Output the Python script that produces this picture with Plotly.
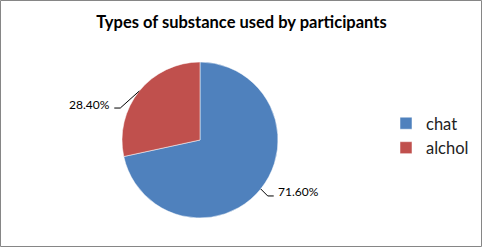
import numpy as np
import plotly.graph_objects as go

categories = ["chat", "alchol"]
values = [71.60, 28.40]
colors = ["#4F81BD", "#C0504D"]
title_text = "Types of substance used by participants"

W, H = 483, 247
cx, cy, r = 200, 140, 78  # pie centre / radius in pixels

fig = go.Figure(go.Pie(
    labels=categories, values=values, sort=False, direction="clockwise", rotation=0,
    marker=dict(colors=colors, line=dict(color="white", width=0.5)),
    textinfo="none", hoverinfo="label+percent",
    domain=dict(x=[(cx - r) / W, (cx + r) / W], y=[1 - (cy + r) / H, 1 - (cy - r) / H]),
))

# leader lines + labels computed from the values
shapes = [dict(type="rect", xref="paper", yref="paper", x0=0.5 / W, y0=0.5 / H, x1=1 - 1.5 / W, y1=1 - 0.5 / H,
               line=dict(color="#868686", width=1))]
annotations = []
total = sum(values)
start = 0.0
for v in values:
    mid = (start + v / 2) / total * 2 * np.pi
    start += v
    sx, sy = np.sin(mid), -np.cos(mid)
    px, py = cx + r * sx, cy + r * sy
    side = 1 if sx >= 0 else -1
    if sy > 0:
        ex, ey = px + 7 * side, py + 7
    else:
        ex, ey = px + 19 * side, py + 17
    hx = ex + 6 * side
    shapes.append(dict(type="path", xref="paper", yref="paper",
                       path=f"M {px / W},{1 - py / H} L {ex / W},{1 - ey / H} L {hx / W},{1 - ey / H}",
                       line=dict(color="black", width=1)))
    annotations.append(dict(x=(hx + 2 * side) / W, y=1 - (ey - 4) / H, xref="paper", yref="paper",
                            text=f"{v:.2f}%", showarrow=False,
                            xanchor="left" if side > 0 else "right", yanchor="middle",
                            font=dict(family="Lato, Liberation Sans, sans-serif", size=12, color="black")))

fig.update_layout(
    width=W, height=H, margin=dict(l=0, r=0, t=0, b=0, autoexpand=False),
    paper_bgcolor="white", plot_bgcolor="white",
    title=dict(text="<b>" + title_text + "</b>", x=0.5, xanchor="center", y=1 - 22 / H, yanchor="middle",
               font=dict(family="Lato, Liberation Sans, sans-serif", size=16.5, color="black")),
    legend=dict(x=386 / W, y=1 - 106 / H, xanchor="left", yanchor="top",
                font=dict(family="Lato, Liberation Sans, sans-serif", size=16.5, color="#222"),
                tracegroupgap=0, itemwidth=30),
    shapes=shapes, annotations=annotations,
)
fig.write_html("out.html")
